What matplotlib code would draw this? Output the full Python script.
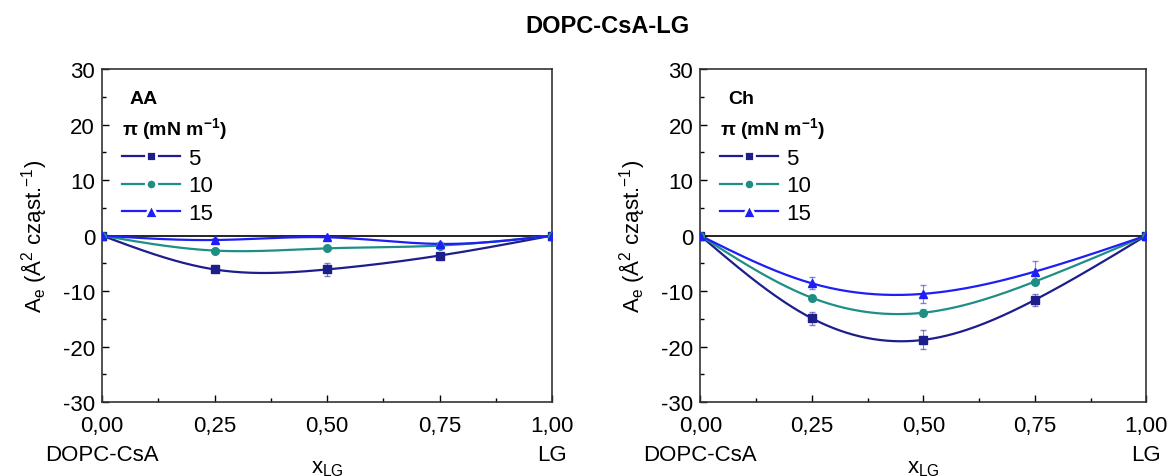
import numpy as np
import matplotlib
matplotlib.use('Agg')
import matplotlib.pyplot as plt
from matplotlib.ticker import MultipleLocator, FuncFormatter

plt.rcParams['font.family'] = ['Liberation Sans', 'DejaVu Sans']
plt.rcParams['mathtext.fontset'] = 'custom'
plt.rcParams['mathtext.rm'] = 'Liberation Sans'
plt.rcParams['mathtext.default'] = 'regular'
plt.rcParams['axes.unicode_minus'] = False

# -------------------------------------------------------------------------------------------------------------------- #
# DATA

x_lg = [0.0, 0.25, 0.50, 0.75, 1.0]
pressures = ['5', '10', '15']

aa_5 = [0.0, -6.1, -6.1, -3.6, 0.0]
aa_10 = [0.0, -2.7, -2.3, -1.8, 0.0]
aa_15 = [0.0, -0.8, -0.3, -1.5, 0.0]
aa_5_err = [0.0, 0.4, 1.2, 0.4, 0.0]
aa_10_err = [0.0, 0.4, 0.3, 0.3, 0.0]
aa_15_err = [0.0, 0.3, 0.3, 0.3, 0.0]

ch_5 = [0.0, -14.9, -18.8, -11.6, 0.0]
ch_10 = [0.0, -11.2, -13.9, -8.3, 0.0]
ch_15 = [0.0, -8.6, -10.5, -6.5, 0.0]
ch_5_err = [0.0, 1.2, 1.7, 1.1, 0.0]
ch_10_err = [0.0, 0.5, 0.6, 0.5, 0.0]
ch_15_err = [0.0, 1.1, 1.6, 2.0, 0.0]

colors = ['#1d1d8c', '#1f8f86', '#1e1ef5']
markers = ['s', 'o', '^']
legend_ms = [7.5, 7.5, 9.5]


def spline(x, y, n=200):
    # natural cubic spline, only used to draw the smooth connecting line
    x = np.asarray(x, float)
    y = np.asarray(y, float)
    k = len(x)
    h = np.diff(x)
    A = np.zeros((k, k))
    b = np.zeros(k)
    A[0, 0] = A[-1, -1] = 1
    for i in range(1, k - 1):
        A[i, i - 1] = h[i - 1]
        A[i, i] = 2 * (h[i - 1] + h[i])
        A[i, i + 1] = h[i]
        b[i] = 6 * ((y[i + 1] - y[i]) / h[i] - (y[i] - y[i - 1]) / h[i - 1])
    m = np.linalg.solve(A, b)
    xs = np.linspace(x[0], x[-1], n)
    idx = np.clip(np.searchsorted(x, xs) - 1, 0, k - 2)
    t0 = xs - x[idx]
    t1 = x[idx + 1] - xs
    hh = h[idx]
    ys = (m[idx] * t1 ** 3 + m[idx + 1] * t0 ** 3) / (6 * hh) \
        + (y[idx] / hh - m[idx] * hh / 6) * t1 + (y[idx + 1] / hh - m[idx + 1] * hh / 6) * t0
    return xs, ys


def draw_panel(ax, series, errors, tag):
    ax.axhline(0, color='black', lw=1.2, zorder=1)
    for vals, err, c, mk, lms, lab in zip(series, errors, colors, markers, legend_ms, pressures):
        xs, ys = spline(x_lg, vals)
        ax.plot(xs, ys, color=c, lw=1.6, zorder=2)
        ax.errorbar(x_lg, vals, yerr=err, fmt='none', ecolor=c, elinewidth=0.8, capsize=2.5, alpha=0.55, zorder=2)
        ax.plot(x_lg, vals, ls='none', marker=mk, color=c, ms=5.5, zorder=3)
        # legend entry: white halo round the marker gives the gapped Origin look
        ax.plot([], [], color=c, marker=mk, ms=lms, mec='white', mew=2, mfc=c, lw=1.6, label=lab)

    ax.set_xlim(0, 1)
    ax.set_ylim(-30, 30)
    ax.xaxis.set_major_locator(MultipleLocator(0.25))
    ax.xaxis.set_minor_locator(MultipleLocator(0.125))
    ax.yaxis.set_major_locator(MultipleLocator(10))
    ax.yaxis.set_minor_locator(MultipleLocator(5))
    ax.xaxis.set_major_formatter(FuncFormatter(lambda v, p: f'{v:.2f}'.replace('.', ',')))
    ax.tick_params(which='both', direction='in', top=False, right=False, labelsize=16, width=1)
    ax.tick_params(which='major', length=5)
    ax.tick_params(which='minor', length=3)
    ax.tick_params(axis='x', pad=9)
    ax.tick_params(axis='y', pad=5)
    for s in ax.spines.values():
        s.set_linewidth(1.2)
        s.set_color('#333333')

    ax.set_ylabel('A$_e$ (Å$^2$ cząst.$^{-1}$)', fontsize=16, labelpad=10)
    ax.text(0.5, -0.165, 'x$_{LG}$', transform=ax.transAxes, ha='center', va='top', fontsize=16)
    ax.text(0.0, -0.125, 'DOPC-CsA', transform=ax.transAxes, ha='center', va='top', fontsize=16)
    ax.text(1.0, -0.125, 'LG', transform=ax.transAxes, ha='center', va='top', fontsize=16)

    ax.text(0.062, 0.912, tag, transform=ax.transAxes, ha='left', va='center', fontsize=14, fontweight='bold')
    leg = ax.legend(loc='upper left', bbox_to_anchor=(0.045, 0.862), frameon=False, fontsize=16,
                    title='π (mN m$^{-1}$)', title_fontproperties={'weight': 'bold', 'size': 14},
                    handlelength=2.6, handletextpad=0.35, labelspacing=0.3, borderaxespad=0,
                    borderpad=0)
    leg._legend_box.align = 'left'


fig = plt.figure(figsize=(11.73, 4.77), dpi=100)
ax1 = fig.add_axes([0.087, 0.155, 0.3836, 0.698])
ax2 = fig.add_axes([0.597, 0.155, 0.3802, 0.698])

draw_panel(ax1, [aa_5, aa_10, aa_15], [aa_5_err, aa_10_err, aa_15_err], 'AA')
draw_panel(ax2, [ch_5, ch_10, ch_15], [ch_5_err, ch_10_err, ch_15_err], 'Ch')

fig.text(0.518, 0.945, 'DOPC-CsA-LG', ha='center', va='center', fontsize=17, fontweight='bold')

fig.savefig('out.png', dpi=100)
